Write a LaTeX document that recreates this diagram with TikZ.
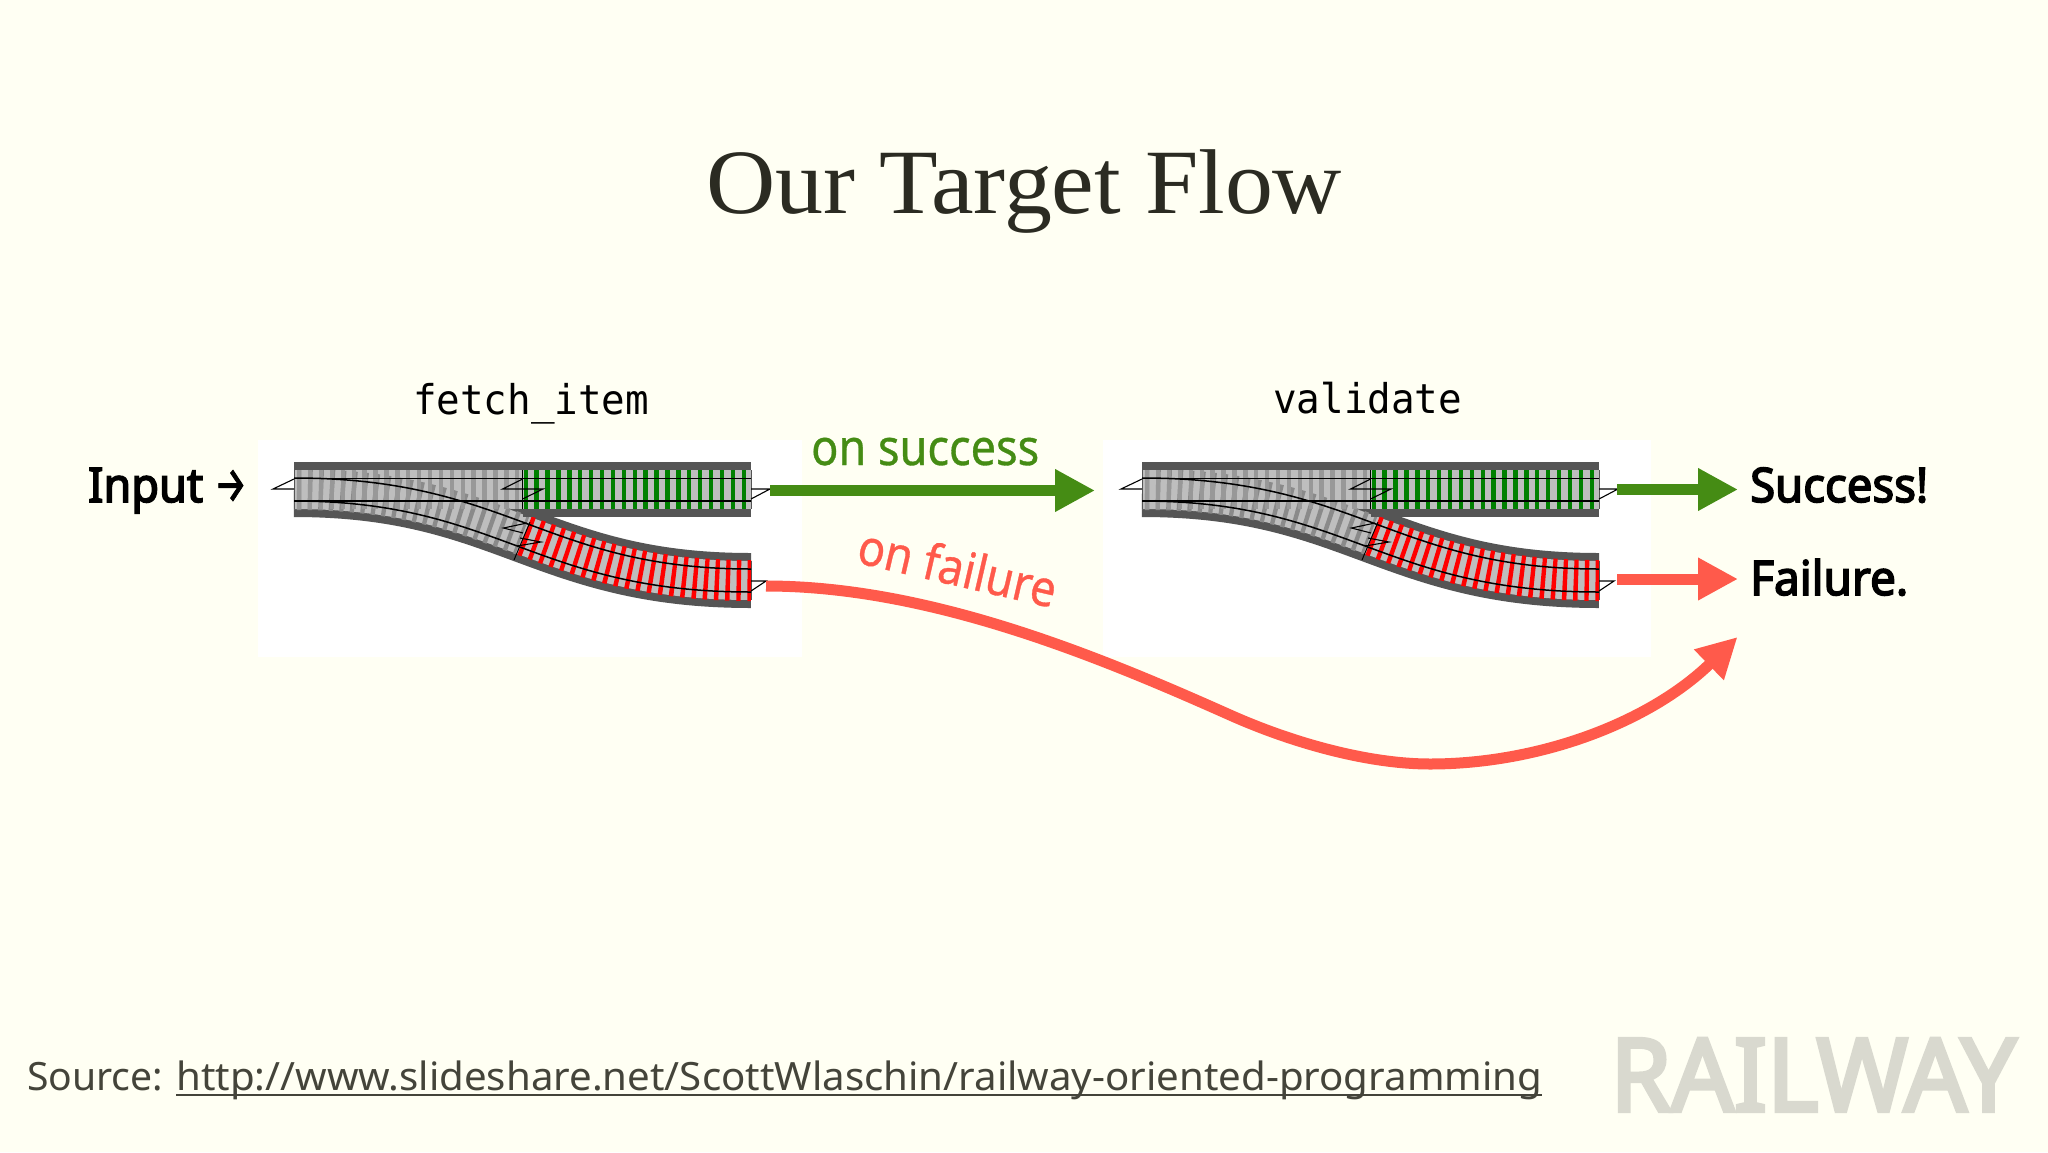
\documentclass[tikz,border=0pt]{standalone}
\usepackage{graphicx}
\usepackage{fontspec}
\usetikzlibrary{arrows.meta}
\setmainfont{Liberation Serif}
\newfontfamily\nsans{Noto Sans}
\newfontfamily\nmed[FakeBold=0.7]{Noto Sans}
\newfontfamily\nbold[FakeBold=3.4]{Noto Sans}
\newfontfamily\wbold[FakeBold=4]{Noto Sans}
\newfontfamily\fsans[FakeBold=2]{Fira Sans}
\newfontfamily\dmono{DejaVu Sans Mono}
\newsavebox\fitbox
\newcommand\fitw[2]{\sbox\fitbox{#2}\dimen0=\wd\fitbox\pgfmathsetmacro\fitr{#1/\the\dimen0}\scalebox{\fitr}[1]{\usebox\fitbox}}
\newcommand\fsz[1]{\fontsize{#1pt}{#1pt}\selectfont}
\definecolor{bgc}{HTML}{FFFFF3}
\definecolor{bandc}{HTML}{555555}
\definecolor{ballastc}{HTML}{BEBEBE}
\definecolor{gtie}{HTML}{8A8A8A}
\definecolor{gtieb}{HTML}{989898}
\definecolor{oktie}{HTML}{008000}
\definecolor{badtie}{HTML}{FF0000}
\definecolor{okc}{HTML}{458C14}
\definecolor{badc}{HTML}{FF5A4B}
\definecolor{titlec}{HTML}{2B2B22}
\definecolor{srcc}{HTML}{44443A}
\definecolor{wmc}{HTML}{D9D9CF}
\tikzset{
  txt/.style={inner sep=0pt,anchor=base west},
  band/.style={line width=55pt,bandc},
  ballast/.style={line width=39pt,ballastc},
  ties/.style={line width=41pt,dash pattern=on 4.4pt off 6.5pt},
  rail/.style={line width=1.5pt,black},
  wire/.style={line width=1.1pt,black,line join=miter},
  okarrow/.style={line width=11pt,okc,-{Triangle[length=40pt,width=40pt]}},
  badarrow/.style={line width=11pt,badc,-{Triangle[length=40pt,width=40pt]}},
  badcurve/.style={line width=11pt,badc,-{Triangle[length=40pt,width=40pt]}},
}
\newcommand\railtrack[1]{%
\begin{scope}[xshift=#1pt]
  % curved branch
  \draw[band] (294,489.5) .. controls (505,489.5) and (540,580.5) .. (751,580.5);
  % left straight part
  \fill[ballastc] (294,470) rectangle (522.5,509);
  \draw[ballast] (294,489.5) .. controls (505,489.5) and (540,580.5) .. (751,580.5);
  \draw[ties,gtie] (297,489.5) .. controls (399.5,489.5) and (461,512.25) .. (522.5,535);
  \draw[ties,badtie] (524.5,535.7) .. controls (584,557.75) and (645.5,580.5) .. (751,580.5);
  \draw[ties,gtieb,line width=39pt] (297,489.5) -- (522,489.5);
  \fill[bandc] (294,462) rectangle (522.5,470);
  % right straight part
  \fill[bandc] (522.5,462) rectangle (751,517);
  \fill[ballastc] (522.5,470) rectangle (751,509);
  \draw[ties,oktie,line width=39pt] (523.5,489.5) -- (751,489.5);
  % edges
  \draw[line width=1pt,bandc] (294,470) -- (294,509);
  \draw[line width=1pt,bandc] (751,470) -- (751,509);
  \draw[line width=1pt,bandc] (751,561) -- (751,600);
  \draw[line width=1pt,black] (522.5,470) -- (522.5,509);
  \draw[line width=1pt,black] (530,522) -- (514,560);
  % rails
  \draw[rail] (294,478.5) -- (751,478.5);
  \draw[rail] (294,501) -- (751,501);
  \draw[rail] (294,478) .. controls (510.3,478) and (545.3,569) .. (751,569);
  \draw[rail] (294,501) .. controls (499.7,501) and (534.7,592) .. (751,592);
  % stubs
  \draw[wire] (294,479) -- (273,489) -- (294,489);
  \draw[wire] (522.5,479) -- (502.5,489) -- (543,489) -- (522.5,499);
  \draw[wire] (527,523) -- (503.5,528) -- (523,533);
  \draw[wire] (520,538) -- (541,542) -- (517,546);
  \draw[wire] (751,489) -- (770,489) -- (751,499);
  \draw[wire] (751,591) -- (766,581) -- (751,581);
\end{scope}}
\begin{document}
\begin{tikzpicture}[x=1pt,y=-1pt]
\path[use as bounding box,fill=bgc] (0,0) rectangle (2048,1152);
\fill[white] (258,440) rectangle (802,657);
\fill[white] (1103,440) rectangle (1651,657);
\railtrack{0}
\railtrack{848}

\node[txt,text=titlec] (title) at (706,213) {\fitw{636}{\fsz{92}Our Target Flow}};
\node[txt] (fetch) at (413,414) {\fitw{236}{\fsz{41}\dmono fetch\_item}};
\node[txt] (valid) at (1273,413) {\fitw{189}{\fsz{41}\dmono validate}};
\node[txt] (input) at (88,502) {\fitw{115}{\fsz{47.6}\nbold Input}};
\node[txt] (inarrow) at (214,502) {\fitw{33}{\fsz{50}\fsans →}};
\node[txt] (succ) at (1750,502) {\fitw{178}{\fsz{47.6}\nbold Success!}};
\node[txt] (fail) at (1750,595) {\fitw{158}{\fsz{47.6}\nbold Failure.}};
\node[txt,text=okc] (onok) at (811,465) {\fitw{228}{\fsz{50}\nmed on success}};
\node[txt,text=badc,rotate=-13] (onbad) at (855,562.5) {\fitw{202}{\fsz{50}\nmed on failure}};

\coordinate (okA) at (770,490.5);
\coordinate (okB) at (1095,490.5);
\coordinate (okC) at (1617,489.5);
\coordinate (okD) at (1738,489.5);
\coordinate (badA) at (1617,579);
\coordinate (badB) at (1738,579);
\coordinate (cvA) at (766,586);
\coordinate (cvB) at (1230,715);
\coordinate (cvC) at (1430,764);
\coordinate (cvD) at (1737.5,637);
\draw[okarrow] (okA) -- (okB);
\draw[okarrow] (okC) -- (okD);
\draw[badarrow] (badA) -- (badB);
\draw[badcurve] (cvA) .. controls (930,586) and (1100,657) .. (cvB)
  .. controls (1295,744) and (1370,764) .. (cvC)
  .. controls (1540,764) and (1650,722) .. (cvD);

\node[txt,text=srcc] (src) at (27,1090) {\fitw{136}{\fsz{39}\nsans Source:}};
\node[txt,text=srcc] (url) at (176,1090) {\fitw{1366}{\fsz{39}\nsans http://www.slideshare.net/ScottWlaschin/railway-oriented-programming}};
\draw[srcc,line width=2pt] ([yshift=-4.5pt]url.base west) -- ([yshift=-4.5pt]url.base east);
\node[txt,text=wmc] (wm) at (1610,1111) {\fitw{406}{\fsz{101}\wbold RAILWAY}};
\end{tikzpicture}
\end{document}
